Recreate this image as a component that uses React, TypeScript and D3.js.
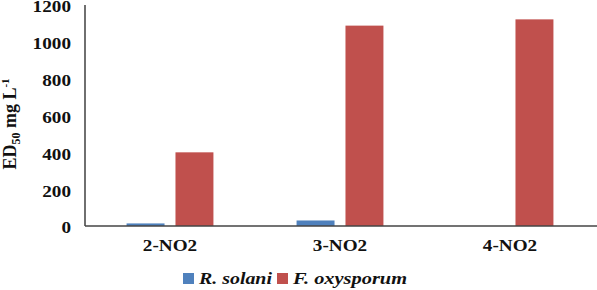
import React from 'react';
import * as d3 from 'd3';

const categories = ['2-NO2', '3-NO2', '4-NO2'];
const seriesNames = ['R. solani', 'F. oxysporum'];
const rSolani = [14, 30, 0];
const fOxysporum = [400, 1088, 1122];
const yTicks = [0, 200, 400, 600, 800, 1000, 1200];
const colors = ['#4F81BD', '#C0504D'];

const W = 597;
const H = 290;
const margin = { top: 5, right: 2, bottom: 64, left: 85 };

const App = () => {
  const x0 = d3.scaleBand().domain(categories).range([margin.left, W - margin.right]).padding(0);
  const x1 = d3.scaleBand().domain(seriesNames).range([0, x0.bandwidth()])
    .paddingInner(0.224).paddingOuter(0.85);
  const y = d3.scaleLinear().domain([0, 1200]).range([H - margin.bottom, margin.top]);

  const values = [rSolani, fOxysporum];
  const baseY = y(0);
  const sx = 1.13; // source text is slightly stretched horizontally

  return (
    <svg width={W} height={H}
      style={{ position: 'absolute', left: 0, top: 0, background: '#fff', fontFamily: "'Liberation Serif', serif" }}>
      {/* bars */}
      {categories.map((c, i) => (
        <g key={c} transform={`translate(${x0(c)},0)`}>
          {seriesNames.map((s, j) => {
            const v = values[j][i];
            if (!v) return null;
            return (
              <rect key={s} x={x1(s)} y={y(v)} width={x1.bandwidth()} height={baseY - y(v)}
                fill={colors[j]} />
            );
          })}
        </g>
      ))}

      {/* axes */}
      <line x1={margin.left} x2={margin.left} y1={margin.top} y2={baseY} stroke="#222" strokeWidth={1.3} />
      <line x1={margin.left} x2={W} y1={baseY} y2={baseY} stroke="#444" strokeWidth={1.5} />

      {yTicks.map(t => (
        <text key={t} transform={`translate(71,${y(t) + 1.5}) scale(${sx},1)`} dy="0.35em" textAnchor="end"
          fontSize={17} fontWeight="bold" fill="#111">{t}</text>
      ))}

      {categories.map(c => (
        <text key={c} transform={`translate(${(x0(c) ?? 0) + x0.bandwidth() / 2},251) scale(${sx},1)`}
          textAnchor="middle" fontSize={17} fontWeight="bold" fill="#111">{c}</text>
      ))}

      {/* y title */}
      <text transform={`translate(16,124) rotate(-90)`} textAnchor="middle" fontSize={18} fontWeight="bold"
        fill="#111">
        ED<tspan fontSize={12} dy={4}>50</tspan><tspan dy={-4}> mg L</tspan><tspan fontSize={11} dy={-7}>-1</tspan>
      </text>

      {/* legend */}
      <g>
        <rect x={183} y={273} width={11} height={11} fill={colors[0]} />
        <text transform={`translate(199,284) scale(1.17,1)`} fontSize={17} fontWeight="bold" fontStyle="italic"
          fill="#111">{seriesNames[0]}</text>
        <rect x={277} y={273} width={11} height={11} fill={colors[1]} />
        <text transform={`translate(293,284) scale(1.2,1)`} fontSize={17} fontWeight="bold" fontStyle="italic"
          fill="#111">{seriesNames[1]}</text>
      </g>
    </svg>
  );
};

export default App;
